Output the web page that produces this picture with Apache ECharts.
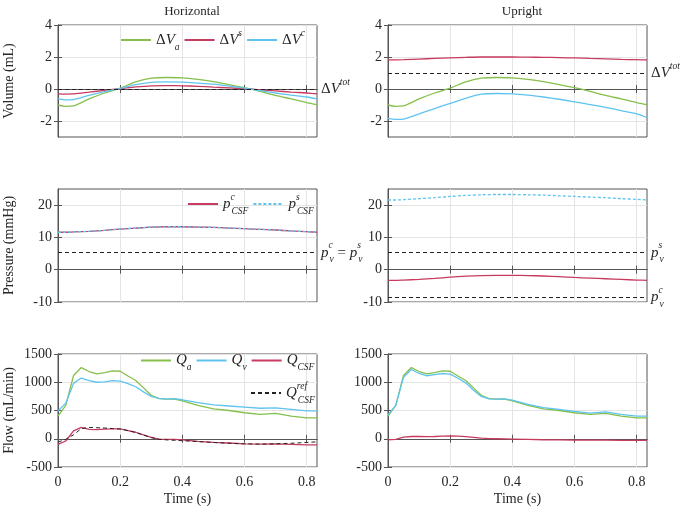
<!DOCTYPE html>
<html><head><meta charset="utf-8">
<script src="https://cdn.jsdelivr.net/npm/echarts@6/dist/echarts.min.js"></script>
<style>html,body{margin:0;padding:0;background:#fff}#c{width:685px;height:510px}</style>
</head><body><div id="c"></div>
<script>
// ---- Data ----
const tS = [0,0.025,0.05,0.1,0.15,0.2,0.25,0.3,0.35,0.4,0.45,0.5,0.55,0.6,0.65,0.7,0.75,0.8,0.833];
const tF = [0,0.025,0.05,0.075,0.1,0.125,0.15,0.175,0.2,0.225,0.25,0.275,0.3,0.325,0.35,0.375,0.4,0.45,0.5,0.55,0.6,0.65,0.7,0.75,0.8,0.833];

const dVa_h = [-1.0,-1.08,-1.05,-0.62,-0.25,0.05,0.45,0.68,0.72,0.7,0.6,0.46,0.28,0.08,-0.15,-0.4,-0.62,-0.85,-0.98];
const dVs_h = [-0.3,-0.32,-0.31,-0.2,-0.08,0.02,0.13,0.2,0.21,0.2,0.17,0.12,0.07,0.02,-0.05,-0.12,-0.19,-0.25,-0.3];
const dVc_h = [-0.6,-0.68,-0.66,-0.4,-0.17,0.04,0.28,0.42,0.45,0.43,0.37,0.3,0.18,0.05,-0.1,-0.25,-0.38,-0.5,-0.62];
const dVa_u = [-1.0,-1.08,-1.05,-0.62,-0.25,0.05,0.45,0.68,0.72,0.7,0.6,0.46,0.28,0.08,-0.15,-0.4,-0.62,-0.85,-0.98];
const dVs_u = [1.82,1.82,1.83,1.87,1.91,1.95,1.98,2.0,2.0,2.0,1.99,1.98,1.96,1.94,1.91,1.88,1.85,1.83,1.82];
const dVc_u = [-1.83,-1.9,-1.88,-1.55,-1.22,-0.9,-0.58,-0.32,-0.28,-0.3,-0.38,-0.5,-0.64,-0.8,-0.97,-1.15,-1.35,-1.55,-1.78];
const vTot_h = 0, vTot_u = 1;

const pc_h = [11.6,11.6,11.7,11.9,12.2,12.6,12.9,13.2,13.3,13.3,13.2,13.1,12.9,12.7,12.5,12.3,12.0,11.8,11.6];
const ps_h = [11.6,11.6,11.7,11.9,12.2,12.6,12.9,13.2,13.3,13.3,13.2,13.1,12.9,12.7,12.5,12.3,12.0,11.8,11.6];
const pc_u = [-3.3,-3.3,-3.2,-3.0,-2.7,-2.3,-2.0,-1.8,-1.75,-1.75,-1.8,-1.95,-2.15,-2.4,-2.6,-2.8,-3.0,-3.2,-3.3];
const ps_u = [21.6,21.6,21.7,22.0,22.3,22.7,23.0,23.2,23.3,23.3,23.2,23.1,22.9,22.7,22.5,22.3,22.0,21.8,21.6];
const pv_h = 5.3, pvs_u = 5.3, pvc_u = -8.6;

const Qa_h = [400,590,1120,1260,1190,1150,1170,1200,1195,1110,1030,900,770,710,700,700,670,590,530,500,460,430,450,400,370,370];
const Qv_h = [490,630,980,1075,1030,1000,1005,1030,1020,975,920,830,750,715,700,710,690,640,600,580,560,540,545,520,495,495];
const Qc_h = [-100,-40,140,200,165,160,170,175,175,145,115,70,25,-5,-10,-12,-20,-45,-65,-75,-90,-95,-90,-100,-110,-110];
const Qref_h = [-60,-10,70,180,200,195,190,180,172,145,110,65,20,-10,-20,-28,-35,-50,-65,-80,-90,-95,-90,-80,-65,-55];
const Qa_u = [400,590,1120,1260,1190,1150,1170,1200,1195,1110,1030,900,770,710,700,700,670,590,530,500,460,430,450,400,370,370];
const Qv_u = [420,590,1090,1225,1155,1115,1135,1155,1145,1070,990,860,750,705,700,705,685,610,550,520,485,455,475,430,400,400];
const Qc_u = [-20,-10,30,40,40,38,40,48,52,45,38,25,10,2,0,-2,-5,-12,-18,-20,-25,-25,-25,-28,-30,-30];

const xTicks = [0,0.2,0.4,0.6,0.8];
const yTicksV = [-2,0,2,4];
const yTicksP = [-10,0,10,20];
const yTicksQ = [-500,0,500,1000,1500];

// ---- Styling ----
const FF = 'Liberation Serif';
const TXT = '#262626';
const GREEN = '#86bf4b', RED = '#c63b5f', CYAN = '#5ec4ef';
const rich = {
  n: {fontFamily: FF, fontSize: 15, color: TXT, lineHeight: 24, verticalAlign: 'middle'},
  i: {fontFamily: FF, fontStyle: 'italic', fontSize: 15, color: TXT, lineHeight: 24, verticalAlign: 'middle'},
  sub: {fontFamily: FF, fontStyle: 'italic', fontSize: 9.5, color: TXT, lineHeight: 9, verticalAlign: 'bottom'},
  sup: {fontFamily: FF, fontStyle: 'italic', fontSize: 9.5, color: TXT, lineHeight: 9, verticalAlign: 'top'},
  supw: {fontFamily: FF, fontStyle: 'italic', fontSize: 9.5, color: TXT, lineHeight: 9, verticalAlign: 'top', width: 1}
};
const labelTxt = {
  'dVa': '{n|Δ}{i|V}{sub|a}',
  'dVs': '{n|Δ}{i|V}{sup|s}',
  'dVc': '{n|Δ}{i|V}{sup|c}',
  'pc': '{i|p}{supw|c}{sub|CSF}',
  'ps': '{i|p}{supw|s}{sub|CSF}',
  'Qa': '{i|Q}{sub|a}',
  'Qv': '{i|Q}{sub|v}',
  'Qc': '{i|Q}{sub|CSF}',
  'Qref': '{i|Q}{supw|ref}{sub|CSF}'
};
const grids = [
  {left: 58, top: 25, width: 259, height: 112},
  {left: 388, top: 25, width: 259, height: 112},
  {left: 58, top: 189, width: 259, height: 113},
  {left: 388, top: 189, width: 259, height: 113},
  {left: 58, top: 354, width: 259, height: 113},
  {left: 388, top: 354, width: 259, height: 113}
].map(g => Object.assign(g, {show: true, borderColor: '#555', borderWidth: 1, containLabel: false}));
const yR = [[-3,4],[-3,4],[-10,25],[-10,25],[-500,1500],[-500,1500]];
const yT = [yTicksV, yTicksV, yTicksP, yTicksP, yTicksQ, yTicksQ];
const yNames = ['Volume (mL)', '', 'Pressure (mmHg)', '', 'Flow (mL/min)', ''];

const xAxis = [], yAxis = [];
for (let i = 0; i < 6; i++) {
  const bottom = i >= 4;
  xAxis.push({
    type: 'value', gridIndex: i, min: 0, max: 0.833, position: 'bottom',
    name: bottom ? 'Time (s)' : '', nameLocation: 'middle', nameGap: 25,
    nameTextStyle: {fontFamily: FF, fontSize: 14, color: TXT},
    axisLine: {show: true, lineStyle: {color: '#555'}},
    axisTick: {show: true, inside: true, length: 4, customValues: xTicks, lineStyle: {color: '#555'}},
    axisLabel: {show: bottom, customValues: xTicks, fontFamily: FF, fontSize: 14, color: TXT, margin: 8,
      formatter: v => String(v)},
    splitLine: {show: true, lineStyle: {color: '#e4e4e4', width: 1}}
  });
  yAxis.push({
    type: 'value', gridIndex: i, min: yR[i][0], max: yR[i][1], position: 'left',
    name: yNames[i], nameLocation: 'middle', nameGap: 42,
    nameTextStyle: {fontFamily: FF, fontSize: 14, color: TXT},
    axisLine: {show: true, lineStyle: {color: '#555'}},
    axisTick: {show: true, inside: true, length: 4, customValues: yT[i], lineStyle: {color: '#555'}},
    axisLabel: {show: true, customValues: yT[i], fontFamily: FF, fontSize: 14, color: TXT, margin: 6,
      formatter: v => String(v)},
    splitLine: {show: true, lineStyle: {color: '#e4e4e4', width: 1}}
  });
}
for (let i = 0; i < 6; i++) {
  xAxis.push({type: 'value', gridIndex: i, min: 0, max: 0.833, position: 'top',
    axisLine: {show: true, lineStyle: {color: '#555'}},
    axisTick: {show: true, inside: true, length: 4, customValues: xTicks, lineStyle: {color: '#555'}},
    axisLabel: {show: false}, splitLine: {show: false}});
  yAxis.push({type: 'value', gridIndex: i, min: yR[i][0], max: yR[i][1], position: 'right',
    axisLine: {show: true, lineStyle: {color: '#555'}},
    axisTick: {show: true, inside: true, length: 4, customValues: yT[i], lineStyle: {color: '#555'}},
    axisLabel: {show: false}, splitLine: {show: false}});
}

const zip = (t, v) => t.map((x, k) => [x, v[k]]);
function line(name, gi, t, v, color, extra) {
  return Object.assign({
    type: 'line', name, xAxisIndex: gi, yAxisIndex: gi, data: zip(t, v),
    symbol: 'none', showSymbol: false, smooth: false, animation: false,
    lineStyle: {color, width: 1.3}, itemStyle: {color}, z: 3
  }, extra || {});
}
function mark(items) {
  return {
    silent: true, symbol: ['none', 'none'], animation: false,
    lineStyle: {type: [4, 3], color: '#222', width: 1},
    label: {show: true, position: 'end', distance: 4, rich},
    data: items.map(it => ({yAxis: it[0], label: {formatter: it[1]}}))
  };
}
const dotted = {type: [3, 2], width: 1.3};

const series = [
  line('dVa', 0, tS, dVa_h, GREEN, {smooth: 0.3, markLine: mark([[vTot_h, '{n|Δ}{i|V}{sup|tot}']])}),
  line('dVs', 0, tS, dVs_h, RED, {smooth: 0.3}),
  line('dVc', 0, tS, dVc_h, CYAN, {smooth: 0.3}),
  line('dVa', 1, tS, dVa_u, GREEN, {smooth: 0.3, markLine: mark([[vTot_u, '{n|Δ}{i|V}{sup|tot}']])}),
  line('dVs', 1, tS, dVs_u, RED, {smooth: 0.3}),
  line('dVc', 1, tS, dVc_u, CYAN, {smooth: 0.3}),
  line('pc', 2, tS, pc_h, RED, {smooth: 0.3, markLine: mark([[pv_h, '{i|p}{supw|c}{sub|v}{n| = }{i|p}{supw|s}{sub|v}']])}),
  line('ps', 2, tS, ps_h, CYAN, {smooth: 0.3, lineStyle: Object.assign({color: CYAN}, dotted), z: 4}),
  line('pc', 3, tS, pc_u, RED, {smooth: 0.3, markLine: mark([[pvs_u, '{i|p}{supw|s}{sub|v}'], [pvc_u, '{i|p}{supw|c}{sub|v}']])}),
  line('ps', 3, tS, ps_u, CYAN, {smooth: 0.3, lineStyle: Object.assign({color: CYAN}, dotted)}),
  line('Qa', 4, tF, Qa_h, GREEN),
  line('Qv', 4, tF, Qv_h, CYAN),
  line('Qc', 4, tF, Qc_h, RED),
  line('Qref', 4, tF, Qref_h, '#222', {lineStyle: {color: '#222', width: 1, type: [4, 3]}, z: 4}),
  line('Qa', 5, tF, Qa_u, GREEN),
  line('Qv', 5, tF, Qv_u, CYAN),
  line('Qc', 5, tF, Qc_u, RED)
];

function legend(names, left, top) {
  return {
    data: names, left, top, orient: 'horizontal', itemWidth: 30, itemHeight: 10, itemGap: 4,
    padding: 0, selectedMode: false,
    itemStyle: {opacity: 0},
    formatter: n => labelTxt[n],
    textStyle: {fontFamily: FF, fontSize: 15, color: TXT, rich}
  };
}

const option = {
  backgroundColor: '#fff',
  animation: false,
  title: [
    {text: 'Horizontal', left: 187, top: 0, textAlign: 'center', textStyle: {fontFamily: FF, fontSize: 13, fontWeight: 'normal', color: TXT}},
    {text: 'Upright', left: 517, top: 0, textAlign: 'center', textStyle: {fontFamily: FF, fontSize: 13, fontWeight: 'normal', color: TXT}}
  ],
  grid: grids,
  xAxis, yAxis,
  legend: [
    legend(['dVa', 'dVs', 'dVc'], 120, 28),
    legend(['pc', 'ps'], 187, 192),
    legend(['Qa', 'Qv', 'Qc'], 140, 353),
    legend(['Qref'], 250, 381)
  ],
  series
};
const chart = echarts.init(document.getElementById('c'), null, {renderer: 'canvas'});
chart.setOption(option);
</script></body></html>
